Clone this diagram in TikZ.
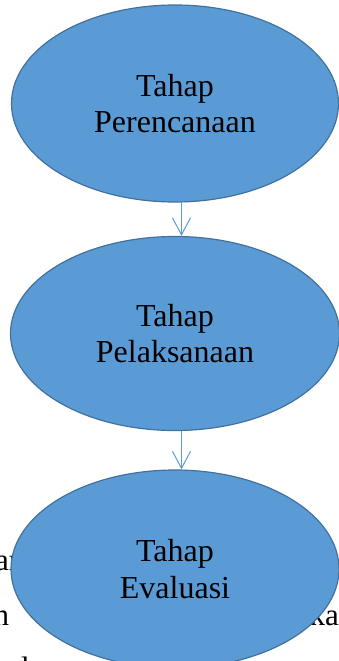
\documentclass[tikz,border=0pt]{standalone}
\usepackage{fontspec}
\setmainfont{Liberation Serif}
\usetikzlibrary{shapes.geometric,arrows.meta}
\definecolor{stagefill}{HTML}{5B9BD5}
\definecolor{stageedge}{HTML}{41719C}
\definecolor{flowline}{HTML}{5B9BD5}
\tikzset{
  stage/.style={ellipse, fill=stagefill, draw=stageedge, line width=1.2pt,
    minimum width=327pt, minimum height=197pt, inner sep=0pt, align=center,
    font=\fontsize{32}{36.7}\selectfont},
  flow/.style={draw=flowline, line width=1pt,
    -{Straight Barb[length=17pt,width=18pt]}},
  pagetext/.style={font=\fontsize{31}{36}\selectfont, inner sep=0pt}
}
\begin{document}
\begin{tikzpicture}[x=1pt,y=-1pt]
\useasboundingbox (0,0) rectangle (339,661);
\clip (0,0) rectangle (339,661);
% body text of the page running behind the last stage
\node[pagetext, anchor=base west] (w1) at (-5,570) {ar};
\node[pagetext, anchor=base west] (w2) at (-6.5,625) {n};
\node[pagetext, anchor=base east] (w3) at (339,625) {ka};
\node[pagetext, anchor=base west] (w4) at (21,678) {l};
% the three stages
\node[stage] (s1) at (175,103.5) {Tahap\\Perencanaan};
\node[stage, minimum width=329pt, minimum height=194pt] (s2) at (175,333.5) {Tahap\\Pelaksanaan};
\node[stage, minimum width=328pt, minimum height=198pt] (s3) at (175,569) {Tahap\\Evaluasi};
% flow between stages
\draw[flow] ([xshift=6.5pt]s1.south) -- ([xshift=6.5pt]s2.north);
\draw[flow] ([xshift=6.5pt]s2.south) -- ([xshift=6.5pt]s3.north);
\end{tikzpicture}
\end{document}
